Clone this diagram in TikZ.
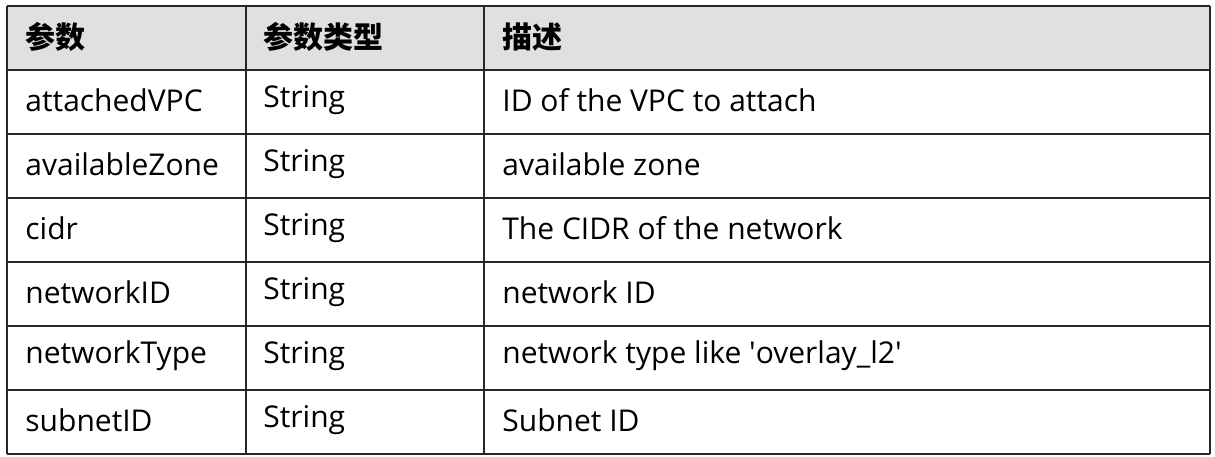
\documentclass[tikz,border=0pt]{standalone}
\usepackage{fontspec}
\setmainfont{Open Sans}
\newfontfamily\cjk{Noto Sans CJK SC}
\begin{document}
\begin{tikzpicture}[x=0.5pt,y=-0.5pt,
  cell/.style={anchor=west,inner sep=0pt,font=\fontsize{15pt}{17pt}\selectfont},
  hcell/.style={anchor=west,inner sep=0pt,font=\cjk\fontsize{15pt}{17pt}\selectfont\bfseries},
  grid/.style={line width=1.2pt,draw=black!85}]
\useasboundingbox (0,0) rectangle (1215,456);
\fill[black!12] (7,6) rectangle (1210,70);
\foreach \y in {6,70,134,198,262,326,390,454} \draw[grid] (7,\y) -- (1210,\y);
\foreach \x in {7,246,484,1210} \draw[grid] (\x,6) -- (\x,454);
\node[hcell] (h1) at (25,37) {参数};
\node[hcell] (h2) at (263,37) {参数类型};
\node[hcell] (h3) at (502,37) {描述};
\foreach \n/\t/\d [count=\i] in {attachedVPC/String/ID of the VPC to attach, availableZone/String/available zone, cidr/String/The CIDR of the network, networkID/String/network ID, networkType/String/network type like \textquotesingle overlay\_l2\textquotesingle, subnetID/String/Subnet ID}{
  \node[cell] (a\i) at (25,{36+64*\i}) {\n};
  \node[cell] (b\i) at (263,{36+64*\i}) {\t};
  \node[cell] (c\i) at (502,{36+64*\i}) {\d};
}
\end{tikzpicture}
\end{document}
